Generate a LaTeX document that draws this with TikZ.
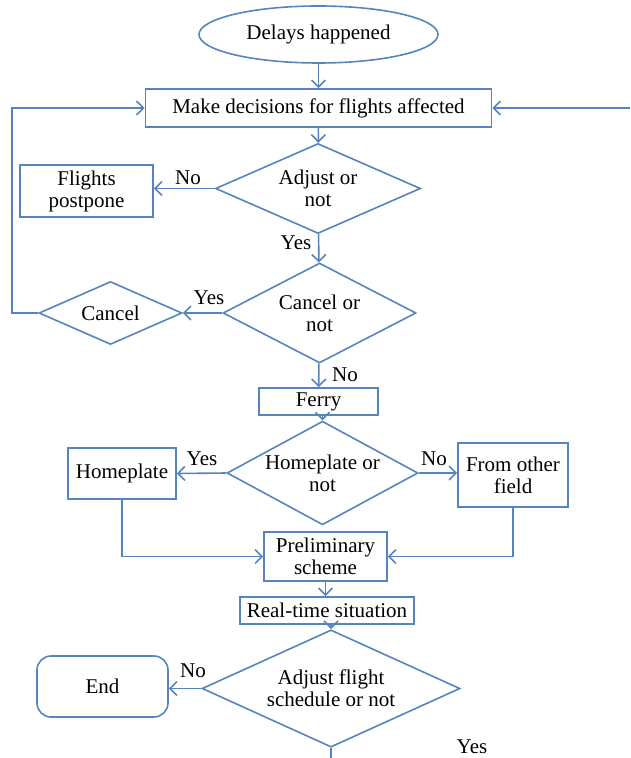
\documentclass[tikz,border=0pt]{standalone}
\usepackage{fontspec}
\setmainfont{Liberation Serif}
\usepackage{xcolor}
\usetikzlibrary{shapes.geometric,arrows.meta}
\definecolor{flowblue}{RGB}{86,132,188}

\begin{document}
\begin{tikzpicture}[x=0.5pt,y=-0.5pt]
\tikzstyle{every node}+=[inner sep=0pt, align=center, font=\fontsize{10.5}{11}\selectfont]
\tikzstyle{line}=[draw=flowblue, line width=0.8pt]
\tikzstyle{arrow}=[line, -{Straight Barb[length=3.5pt,width=7pt]}]
\tikzstyle{box}=[line, rectangle]
\tikzstyle{choice}=[line, diamond, inner sep=-6pt]
\useasboundingbox (0,0) rectangle (630,758);
\node [line, ellipse, minimum width=119.5pt, minimum height=28.5pt] (delays) at (318.5,34.5) {Delays happened};
\node [box, minimum width=173pt, minimum height=19pt] (decide) at (318.5,108) {Make decisions for flights affected};
\node [choice, minimum width=102.5pt, minimum height=45pt] (adjust) at (318,188.5) {Adjust or\\not};
\node [box, minimum width=66.5pt, minimum height=26pt] (postpone) at (86.5,191) {Flights\\postpone};
\node [choice, minimum width=96.5pt, minimum height=50pt] (cancelq) at (319.5,313) {Cancel or\\not};
\node [choice, minimum width=71.5pt, minimum height=31.5pt] (cancel) at (110.5,313) {Cancel};
\node [box, minimum width=59.5pt, minimum height=13.5pt] (ferry) at (318.5,401.5) {Ferry};
\node [choice, minimum width=95.5pt, minimum height=43pt] (homeq) at (322.5,473) {Homeplate or\\not};
\node [box, minimum width=54pt, minimum height=25.5pt] (homeplate) at (122,473.5) {Homeplate};
\node [box, minimum width=55pt, minimum height=32pt] (other) at (513,475) {From other\\field};
\node [box, minimum width=61.5pt, minimum height=24.5pt] (prelim) at (325.5,556.5) {Preliminary\\scheme};
\node [box, minimum width=87pt, minimum height=13.5pt] (realtime) at (327,610.5) {Real-time situation};
\node [choice, minimum width=129pt, minimum height=50.5pt] (schedq) at (331,688.5) {Adjust flight\\schedule or not};
\node [box, rounded corners=7pt, minimum width=65.5pt, minimum height=30.5pt] (finish) at (102.5,686.5) {End};
\node (noadj) at (188,178) {No};
\node (yesadj) at (296,243) {Yes};
\node (yescancel) at (209,298) {Yes};
\node (nocancel) at (345,375) {No};
\node (yeshome) at (202,459) {Yes};
\node (nohome) at (434,459) {No};
\node (nosched) at (193,671) {No};
\node (yessched) at (472,747) {Yes};
\coordinate (rightin) at (630,108);
\coordinate (bottomout) at (331,758);
\draw [arrow] (delays) -- (decide);
\draw [arrow] (rightin) -- (decide.east);
\draw [arrow] (decide) -- (adjust);
\draw [arrow] (adjust.west) -- (adjust.west -| postpone.east);
\draw [arrow] (adjust) -- (cancelq);
\draw [arrow] (cancelq.west) -- (cancel.east);
\draw [arrow] (cancel.west) -- ++(-26,0) |- (decide.west);
\draw [arrow] (cancelq) -- (ferry);
\draw [arrow] (ferry.south -| homeq.north) -- (homeq.north);
\draw [arrow] (homeq.west) -- (homeplate.east);
\draw [arrow] (homeq.east) -- (homeq.east -| other.west);
\draw [arrow] (homeplate.south) |- (prelim.west);
\draw [arrow] (other.south) |- (prelim.east);
\draw [arrow] (prelim) -- (prelim |- realtime.north);
\draw [arrow] (realtime.south -| schedq.north) -- (schedq.north);
\draw [arrow] (schedq.west) -- (schedq.west -| finish.east);
\draw [line] (schedq.south) -- (bottomout);
\end{tikzpicture}
\end{document}
